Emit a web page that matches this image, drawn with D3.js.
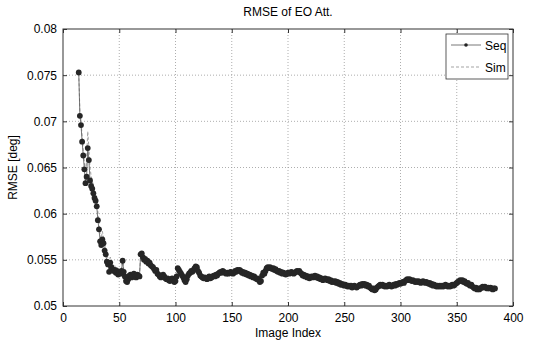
<!DOCTYPE html>
<html>
<head>
<meta charset="utf-8">
<script src="https://cdn.jsdelivr.net/npm/d3@7"></script>
<style>
  html, body { margin: 0; padding: 0; background: #fff; }
  svg { display: block; font-family: "Liberation Sans", Arial, sans-serif; }
</style>
</head>
<body>
<svg id="chart" width="544" height="344"></svg>
<script>
// ---- data ----
const title = "RMSE of EO Att.";
const xLabel = "Image Index";
const yLabel = "RMSE [deg]";
const xTicks = [0, 50, 100, 150, 200, 250, 300, 350, 400];
const yTicks = [0.05, 0.055, 0.06, 0.065, 0.07, 0.075, 0.08];
const yTickLabels = ["0.05", "0.055", "0.06", "0.065", "0.07", "0.075", "0.08"];
const seriesNames = ["Seq", "Sim"];
const firstImageIndex = 14;

const seq = [
0.0753,0.0706,0.0696,0.0678,0.0663,0.0648,0.0633,0.0640,0.0671,0.0658,
0.0636,0.0630,0.0627,0.0622,0.0617,0.0614,0.0608,0.0593,0.0583,0.0570,
0.0566,0.0572,0.0568,0.0560,0.0556,0.0548,0.0545,0.0537,0.0547,0.0542,
0.0540,0.0538,0.0539,0.0536,0.0538,0.0534,0.0536,0.0535,0.0538,0.0549,
0.0537,0.0532,0.0527,0.0526,0.0529,0.0533,0.0534,0.0531,0.0533,0.0535,
0.0532,0.0531,0.0534,0.0533,0.0532,0.0556,0.0557,0.0553,0.0550,0.0551,
0.0548,0.0549,0.0546,0.0547,0.0544,0.0543,0.0542,0.0540,0.0538,0.0539,
0.0535,0.0534,0.0532,0.0531,0.0533,0.0534,0.0532,0.0530,0.0529,0.0530,
0.0528,0.0527,0.0529,0.0530,0.0528,0.0526,0.0527,0.0532,0.0541,0.0539,
0.0537,0.0535,0.0533,0.0531,0.0528,0.0526,0.0529,0.0533,0.0535,0.0536,
0.0538,0.0537,0.0539,0.0541,0.0543,0.0542,0.0538,0.0536,0.0533,0.0532,
0.0531,0.0530,0.0531,0.0530,0.0529,0.0531,0.0532,0.0530,0.0531,0.0532,
0.0533,0.0532,0.0534,0.0533,0.0535,0.0536,0.0537,0.0536,0.0538,0.0537,
0.0536,0.0535,0.0536,0.0535,0.0536,0.0537,0.0536,0.0535,0.0536,0.0538,
0.0537,0.0539,0.0538,0.0539,0.0538,0.0536,0.0537,0.0535,0.0536,0.0534,
0.0535,0.0533,0.0534,0.0532,0.0533,0.0531,0.0532,0.0530,0.0529,0.0530,
0.0528,0.0526,0.0527,0.0533,0.0536,0.0535,0.0538,0.0541,0.0542,0.0541,
0.0542,0.0541,0.0540,0.0541,0.0539,0.0540,0.0538,0.0537,0.0538,0.0536,
0.0537,0.0535,0.0536,0.0535,0.0534,0.0535,0.0536,0.0535,0.0536,0.0537,
0.0536,0.0535,0.0536,0.0537,0.0538,0.0537,0.0538,0.0536,0.0535,0.0533,
0.0534,0.0532,0.0533,0.0531,0.0532,0.0530,0.0531,0.0532,0.0531,0.0532,
0.0533,0.0531,0.0532,0.0530,0.0531,0.0529,0.0530,0.0528,0.0529,0.0530,
0.0529,0.0528,0.0529,0.0527,0.0528,0.0526,0.0527,0.0526,0.0527,0.0525,
0.0526,0.0524,0.0525,0.0523,0.0524,0.0523,0.0522,0.0523,0.0522,0.0521,
0.0522,0.0521,0.0522,0.0520,0.0521,0.0522,0.0521,0.0520,0.0521,0.0522,
0.0523,0.0522,0.0524,0.0523,0.0524,0.0522,0.0523,0.0521,0.0522,0.0520,
0.0519,0.0518,0.0519,0.0517,0.0518,0.0520,0.0521,0.0522,0.0523,0.0522,
0.0523,0.0522,0.0521,0.0522,0.0521,0.0522,0.0523,0.0522,0.0521,0.0522,
0.0523,0.0522,0.0524,0.0523,0.0524,0.0525,0.0524,0.0525,0.0526,0.0525,
0.0527,0.0528,0.0529,0.0528,0.0529,0.0528,0.0527,0.0528,0.0527,0.0526,
0.0527,0.0526,0.0527,0.0526,0.0525,0.0526,0.0527,0.0526,0.0525,0.0526,
0.0525,0.0524,0.0525,0.0523,0.0524,0.0522,0.0523,0.0522,0.0521,0.0522,
0.0521,0.0522,0.0521,0.0522,0.0521,0.0522,0.0523,0.0522,0.0521,0.0522,
0.0521,0.0522,0.0523,0.0522,0.0523,0.0524,0.0525,0.0526,0.0527,0.0528,
0.0527,0.0528,0.0526,0.0527,0.0525,0.0524,0.0525,0.0523,0.0522,0.0523,
0.0521,0.0520,0.0519,0.0520,0.0518,0.0519,0.0518,0.0519,0.0520,0.0521,
0.0520,0.0521,0.0520,0.0519,0.0520,0.0519,0.0520,0.0519,0.0518,0.0519,
0.0519
];

const sim = [
0.0752,0.0712,0.0700,0.0684,0.0668,0.0655,0.0645,0.0660,0.0689,0.0672,
0.0650,0.0641,0.0636,0.0630,0.0626,0.0621,0.0615,0.0602,0.0590,0.0578,
0.0573,0.0581,0.0574,0.0566,0.0562,0.0554,0.0552,0.0545,0.0553,0.0548,
0.0546,0.0542,0.0544,0.0540,0.0542,0.0538,0.0540,0.0538,0.0541,0.0551,
0.0540,0.0535,0.0530,0.0529,0.0531,0.0535,0.0536,0.0533,0.0535,0.0536,
0.0534,0.0533,0.0535,0.0534,0.0533,0.0555,0.0556,0.0552,0.0549,0.0550,
0.0547,0.0548,0.0545,0.0545,0.0543,0.0542,0.0540,0.0539,0.0537,0.0537,
0.0534,0.0533,0.0531,0.0530,0.0531,0.0532,0.0531,0.0529,0.0528,0.0529,
0.0527,0.0526,0.0528,0.0529,0.0527,0.0525,0.0526,0.0531,0.0540,0.0538,
0.0536,0.0534,0.0532,0.0530,0.0527,0.0525,0.0528,0.0532,0.0534,0.0535,
0.0537,0.0536,0.0538,0.0540,0.0542,0.0541,0.0537,0.0535,0.0532,0.0531,
0.0530,0.0529,0.0530,0.0529,0.0528,0.0530,0.0531,0.0529,0.0530,0.0531,
0.0532,0.0531,0.0533,0.0532,0.0534,0.0535,0.0536,0.0535,0.0537,0.0536,
0.0535,0.0534,0.0535,0.0534,0.0535,0.0536,0.0535,0.0534,0.0535,0.0537,
0.0536,0.0538,0.0537,0.0538,0.0537,0.0535,0.0536,0.0534,0.0535,0.0533,
0.0534,0.0532,0.0533,0.0531,0.0532,0.0530,0.0531,0.0529,0.0528,0.0529,
0.0527,0.0525,0.0526,0.0532,0.0535,0.0534,0.0537,0.0540,0.0541,0.0540,
0.0541,0.0540,0.0539,0.0540,0.0538,0.0539,0.0537,0.0536,0.0537,0.0535,
0.0536,0.0534,0.0535,0.0534,0.0533,0.0534,0.0535,0.0534,0.0535,0.0536,
0.0535,0.0534,0.0535,0.0536,0.0537,0.0536,0.0537,0.0535,0.0534,0.0532,
0.0533,0.0531,0.0532,0.0530,0.0531,0.0529,0.0530,0.0531,0.0530,0.0531,
0.0532,0.0530,0.0531,0.0529,0.0530,0.0528,0.0529,0.0527,0.0528,0.0529,
0.0528,0.0527,0.0528,0.0526,0.0527,0.0525,0.0526,0.0525,0.0526,0.0524,
0.0525,0.0523,0.0524,0.0522,0.0523,0.0522,0.0521,0.0522,0.0521,0.0520,
0.0521,0.0520,0.0521,0.0519,0.0520,0.0521,0.0520,0.0519,0.0520,0.0521,
0.0522,0.0521,0.0523,0.0522,0.0523,0.0521,0.0522,0.0520,0.0521,0.0519,
0.0518,0.0517,0.0518,0.0516,0.0517,0.0519,0.0520,0.0521,0.0522,0.0521,
0.0522,0.0521,0.0520,0.0521,0.0520,0.0521,0.0522,0.0521,0.0520,0.0521,
0.0522,0.0521,0.0523,0.0522,0.0523,0.0524,0.0523,0.0524,0.0525,0.0524,
0.0526,0.0527,0.0528,0.0527,0.0528,0.0527,0.0526,0.0527,0.0526,0.0525,
0.0526,0.0525,0.0526,0.0525,0.0524,0.0525,0.0526,0.0525,0.0524,0.0525,
0.0524,0.0523,0.0524,0.0522,0.0523,0.0521,0.0522,0.0521,0.0520,0.0521,
0.0520,0.0521,0.0520,0.0521,0.0520,0.0521,0.0522,0.0521,0.0520,0.0521,
0.0520,0.0521,0.0522,0.0521,0.0522,0.0523,0.0524,0.0525,0.0526,0.0527,
0.0526,0.0527,0.0525,0.0526,0.0524,0.0523,0.0524,0.0522,0.0521,0.0522,
0.0520,0.0519,0.0518,0.0519,0.0517,0.0518,0.0517,0.0518,0.0519,0.0520,
0.0519,0.0520,0.0519,0.0518,0.0519,0.0518,0.0519,0.0518,0.0517,0.0518,
0.0518
];

// ---- layout ----
const svg = d3.select("#chart");
const plot = { left: 63, right: 513, top: 29, bottom: 306 };
const x = d3.scaleLinear().domain([0, 400]).range([plot.left, plot.right]);
const y = d3.scaleLinear().domain([0.05, 0.08]).range([plot.bottom, plot.top]);

const seqData = seq.map((v, i) => ({ idx: firstImageIndex + i, v }));
const simData = sim.map((v, i) => ({ idx: firstImageIndex + i, v }));

svg.append("rect").attr("x", 0).attr("y", 0).attr("width", 544).attr("height", 344).attr("fill", "#fff");

// grid
const grid = svg.append("g");
grid.selectAll("line.gx").data(xTicks.slice(1, -1)).enter().append("line")
  .attr("x1", d => x(d)).attr("x2", d => x(d)).attr("y1", plot.top).attr("y2", plot.bottom)
  .attr("stroke", "#999").attr("stroke-width", 0.8).attr("stroke-dasharray", "1,2");
grid.selectAll("line.gy").data(yTicks.slice(1, -1)).enter().append("line")
  .attr("y1", d => y(d)).attr("y2", d => y(d)).attr("x1", plot.left).attr("x2", plot.right)
  .attr("stroke", "#999").attr("stroke-width", 0.8).attr("stroke-dasharray", "1,2");

// series
const line = d3.line().x(d => x(d.idx)).y(d => y(d.v));
svg.append("path").datum(simData).attr("d", line)
  .attr("fill", "none").attr("stroke", "#999").attr("stroke-width", 0.9)
  .attr("stroke-dasharray", "3,2");
svg.append("path").datum(seqData).attr("d", line)
  .attr("fill", "none").attr("stroke", "#555").attr("stroke-width", 0.8);
svg.append("g").selectAll("circle").data(seqData).enter().append("circle")
  .attr("cx", d => x(d.idx)).attr("cy", d => y(d.v)).attr("r", 2.9)
  .attr("fill", "#262626");

// axes
const axisColor = "#333";
function styleAxis(g) {
  g.select(".domain").remove();
  g.selectAll(".tick line").attr("stroke", axisColor);
  g.selectAll(".tick text").attr("fill", "#000").style("font-size", "12px")
    .style("font-family", "'Liberation Sans', Arial, sans-serif");
}
svg.append("g").attr("transform", `translate(0,${plot.bottom})`)
  .call(d3.axisBottom(x).tickValues(xTicks).tickSize(-4).tickPadding(7).tickFormat(d3.format("d")))
  .call(styleAxis);
svg.append("g").attr("transform", `translate(0,${plot.top})`)
  .call(d3.axisTop(x).tickValues(xTicks).tickSize(-4).tickFormat(""))
  .call(styleAxis);
svg.append("g").attr("transform", `translate(${plot.left},0)`)
  .call(d3.axisLeft(y).tickValues(yTicks).tickSize(-4).tickPadding(6)
    .tickFormat((d, i) => yTickLabels[i]))
  .call(styleAxis);
svg.append("g").attr("transform", `translate(${plot.right},0)`)
  .call(d3.axisRight(y).tickValues(yTicks).tickSize(-4).tickFormat(""))
  .call(styleAxis);

svg.append("rect").attr("x", plot.left).attr("y", plot.top)
  .attr("width", plot.right - plot.left).attr("height", plot.bottom - plot.top)
  .attr("fill", "none").attr("stroke", axisColor).attr("stroke-width", 1);

// texts
svg.append("text").attr("x", (plot.left + plot.right) / 2).attr("y", 16)
  .attr("text-anchor", "middle").style("font-size", "12px").text(title);
svg.append("text").attr("x", (plot.left + plot.right) / 2).attr("y", 337)
  .attr("text-anchor", "middle").style("font-size", "12px").text(xLabel);
svg.append("text").attr("transform", `translate(17,${(plot.top + plot.bottom) / 2}) rotate(-90)`)
  .attr("text-anchor", "middle").style("font-size", "12px").text(yLabel);

// legend
const lg = svg.append("g");
lg.append("rect").attr("x", 446).attr("y", 34).attr("width", 62).attr("height", 45)
  .attr("fill", "#fff").attr("stroke", axisColor).attr("stroke-width", 0.8);
const rows = [45, 67];
lg.append("line").attr("x1", 451).attr("x2", 481).attr("y1", rows[0]).attr("y2", rows[0])
  .attr("stroke", "#555").attr("stroke-width", 0.8);
lg.append("circle").attr("cx", 466).attr("cy", rows[0]).attr("r", 1.8).attr("fill", "#222");
lg.append("line").attr("x1", 451).attr("x2", 481).attr("y1", rows[1]).attr("y2", rows[1])
  .attr("stroke", "#999").attr("stroke-width", 0.9).attr("stroke-dasharray", "3,2");
seriesNames.forEach((n, i) => {
  lg.append("text").attr("x", 485).attr("y", rows[i] + 4.5).style("font-size", "12px").text(n);
});
</script>
</body>
</html>
